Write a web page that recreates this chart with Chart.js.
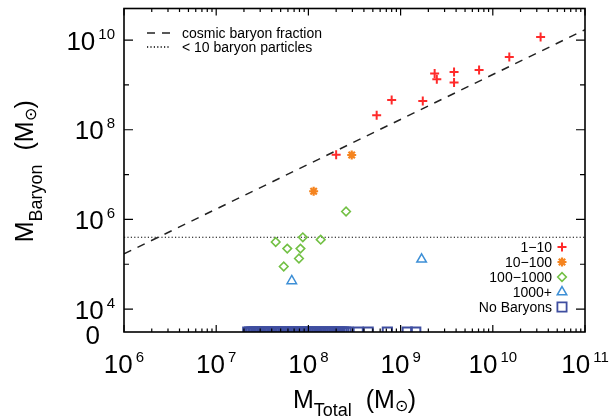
<!DOCTYPE html>
<html>
<head>
<meta charset="utf-8">
<script src="https://cdn.jsdelivr.net/npm/chart.js@4.4.0/dist/chart.umd.min.js"></script>
<style>
  body { margin: 0; background: #fff; }
  #wrap { width: 614px; height: 418px; }
</style>
</head>
<body>
<div id="wrap"><canvas id="myChart"></canvas></div>
<script>
//*************** data *******************

// axis ranges (bottom of the y axis is the "0" row)
var xRange = [1e6, 1e11];
var yRange = [3080, 5.06e10];

// tick values
var xMajorTicks = [1e6, 1e7, 1e8, 1e9, 1e10, 1e11];
var yLabelTicks = [1e4, 1e6, 1e8, 1e10];
var yMinorTicks = [1e5, 1e7, 1e9];

// 1-10 (red plus)
var oneToTenX = [5.5e8, 8.0e8, 1.74e9, 2.34e9, 2.47e9, 3.8e9, 3.8e9, 7.1e9, 1.51e10, 3.3e10, 2.0e8];
var oneToTenY = [2.1e8, 4.6e8, 4.4e8, 1.79e9, 1.34e9, 1.95e9, 1.13e9, 2.15e9, 4.2e9, 1.17e10, 2.78e7];

// 10-100 (orange asterisk)
var tenToHundredX = [2.95e8, 1.14e8];
var tenToHundredY = [2.73e7, 4.25e6];

// 100-1000 (green diamond)
var hundredToThousandX = [2.56e8, 4.42e7, 8.7e7, 1.36e8, 5.9e7, 8.2e7, 7.9e7, 5.4e7];
var hundredToThousandY = [1.5e6, 3.13e5, 3.98e5, 3.53e5, 2.23e5, 2.23e5, 1.34e5, 8.9e4];

// 1000+ (blue triangle)
var thousandPlusX = [1.69e9, 6.6e7];
var thousandPlusY = [1.29e5, 4.25e4];

// no baryons (plotted on the "0" row)
var noBaryonsX = [
  2.2e7, 2.3e7, 2.4e7, 2.5e7, 2.6e7, 2.7e7, 2.8e7, 2.9e7, 3.0e7, 3.2e7, 3.3e7,
  3.5e7, 3.6e7, 3.8e7, 4.0e7, 4.2e7, 4.4e7, 4.6e7, 4.8e7, 5.0e7, 5.3e7, 5.5e7,
  5.8e7, 6.1e7, 6.4e7, 6.7e7, 7.0e7, 7.3e7, 7.7e7, 8.1e7, 8.5e7, 8.9e7, 9.3e7,
  9.8e7, 1.03e8, 1.08e8, 1.13e8, 1.18e8, 1.24e8, 1.3e8, 1.36e8, 1.43e8, 1.5e8,
  1.57e8, 1.65e8, 1.73e8, 1.81e8, 1.9e8, 1.99e8, 2.09e8, 2.19e8, 2.3e8, 2.41e8,
  2.55e8, 2.69e8, 3.47e8, 4.45e8, 7.18e8, 1.18e9, 1.46e9
];

// reference lines
var cosmicX = [1e6, 1e11];
var cosmicY = [1.7e5, 1.7e10];
var tenParticleX = [1e6, 1e11];
var tenParticleY = [4.0e5, 4.0e5];

//*************** helpers *******************

var FONT = '"Liberation Sans", Arial, sans-serif';

function pairUp(xs, ys) {
  var out = [];
  for (var i = 0; i < xs.length; i++) {
    out.push({ x: xs[i], y: ys[i] });
  }
  return out;
}

// "10" with a raised exponent; y is the baseline of the "10"
function drawPower(ctx, exp, x, y, align) {
  ctx.font = '26px ' + FONT;
  var w1 = ctx.measureText('10').width;
  ctx.font = '15px ' + FONT;
  var w2 = ctx.measureText(String(exp)).width;
  var gap = 3;
  var total = w1 + gap + w2;
  var left = align === 'center' ? x - total / 2 : x - total;
  ctx.textAlign = 'left';
  ctx.textBaseline = 'alphabetic';
  ctx.font = '26px ' + FONT;
  ctx.fillText('10', left, y);
  ctx.font = '15px ' + FONT;
  ctx.fillText(String(exp), left + w1 + gap, y - 11);
}

// text made of pieces [text, size, dy], centred on cx, baseline y
function drawPieces(ctx, pieces, cx, y) {
  var total = 0;
  pieces.forEach(function (p) {
    ctx.font = p[1] + 'px ' + FONT;
    total += ctx.measureText(p[0]).width;
  });
  var x = cx - total / 2;
  ctx.textAlign = 'left';
  ctx.textBaseline = 'alphabetic';
  pieces.forEach(function (p) {
    ctx.font = p[1] + 'px ' + FONT;
    ctx.fillText(p[0], x, y + p[2]);
    x += ctx.measureText(p[0]).width;
  });
}

function legendMarker(ctx, style, radius, color, width, x, y) {
  ctx.save();
  ctx.strokeStyle = color;
  ctx.fillStyle = 'rgba(0,0,0,0)';
  ctx.lineWidth = width;
  Chart.helpers.drawPoint(ctx, { pointStyle: style, radius: radius, rotation: 0, borderWidth: width }, x, y);
  ctx.restore();
}

//*************** frame, ticks, labels, legends *******************

var framePlugin = {
  id: 'frame',
  afterDraw: function (chart) {
    var ctx = chart.ctx;
    var a = chart.chartArea;
    var xs = chart.scales.x;
    var ys = chart.scales.y;

    ctx.save();
    ctx.strokeStyle = '#000';
    ctx.fillStyle = '#000';

    // inward ticks
    ctx.lineWidth = 1.2;
    ctx.beginPath();
    for (var d = 6; d <= 11; d++) {
      for (var k = 1; k <= 9; k++) {
        var v = k * Math.pow(10, d);
        if (v > xRange[1]) break;
        var px = xs.getPixelForValue(v);
        var len = k === 1 ? 7 : 3.5;
        ctx.moveTo(px, a.bottom); ctx.lineTo(px, a.bottom - len);
        ctx.moveTo(px, a.top); ctx.lineTo(px, a.top + len);
      }
    }
    yLabelTicks.concat(yMinorTicks).forEach(function (v) {
      var py = ys.getPixelForValue(v);
      var len = yLabelTicks.indexOf(v) >= 0 ? 9 : 5;
      ctx.moveTo(a.left, py); ctx.lineTo(a.left + len, py);
      ctx.moveTo(a.right, py); ctx.lineTo(a.right - len, py);
    });
    ctx.stroke();

    // frame
    ctx.lineWidth = 1.6;
    ctx.strokeRect(a.left, a.top, a.right - a.left, a.bottom - a.top);

    // tick labels
    xMajorTicks.forEach(function (v) {
      drawPower(ctx, Math.round(Math.log10(v)), xs.getPixelForValue(v), a.bottom + 41, 'center');
    });
    yLabelTicks.forEach(function (v) {
      drawPower(ctx, Math.round(Math.log10(v)), a.left - 9, ys.getPixelForValue(v) + 9.5, 'right');
    });
    ctx.font = '26px ' + FONT;
    ctx.textAlign = 'right';
    ctx.fillText('0', a.left - 24, a.bottom + 11.5);

    // axis titles
    drawPieces(ctx, [['M', 25, 0], ['Total', 18, 8], ['  (M', 25, 0], ['\u2299', 16, 3], [')', 25, 0]],
      (a.left + a.right) / 2, 408);
    ctx.save();
    ctx.translate(33, (a.top + a.bottom) / 2 + 1);
    ctx.rotate(-Math.PI / 2);
    drawPieces(ctx, [['M', 25, 0], ['Baryon', 18, 9], ['  (M', 25, 0], ['\u2299', 16, 3], [')', 25, 0]], 0, 0);
    ctx.restore();

    // top-left legend (lines)
    ctx.lineWidth = 1.5;
    ctx.setLineDash([8, 7]);
    ctx.strokeStyle = '#222';
    ctx.beginPath(); ctx.moveTo(147, 33); ctx.lineTo(171, 33); ctx.stroke();
    ctx.setLineDash([1.2, 2.2]);
    ctx.strokeStyle = '#000';
    ctx.beginPath(); ctx.moveTo(147, 47); ctx.lineTo(169, 47); ctx.stroke();
    ctx.setLineDash([]);
    ctx.font = '14px ' + FONT;
    ctx.textAlign = 'left';
    ctx.fillText('cosmic baryon fraction', 182, 38);
    ctx.fillText('< 10 baryon particles', 182, 52);

    // bottom-right legend (markers)
    var rows = [
      ['1\u221210', 'cross', 4.5, '#ff2a2a', 2],
      ['10\u2212100', 'star', 4.5, '#f5841f', 2.2],
      ['100\u22121000', 'rectRot', 4.3, '#72c044', 1.6],
      ['1000+', 'triangle', 5.5, '#3d8fd6', 1.5],
      ['No Baryons', 'rect', 6.5, '#3f4ea0', 1.8]
    ];
    rows.forEach(function (r, i) {
      var base = 252 + i * 15;
      ctx.font = '14px ' + FONT;
      ctx.textAlign = 'right';
      ctx.fillStyle = '#000';
      ctx.fillText(r[0], 552, base);
      legendMarker(ctx, r[1], r[2], r[3], r[4], 562, base - 5);
    });

    ctx.restore();
  }
};

//*************** chart *******************

var myChart = document.getElementById('myChart').getContext('2d');
var baryonChart = new Chart(myChart, {
  type: 'scatter',
  data: {
    datasets: [
      {
        label: '1-10',
        data: pairUp(oneToTenX, oneToTenY),
        pointStyle: 'cross',
        radius: 4.5,
        borderWidth: 2,
        borderColor: '#ff2a2a',
        backgroundColor: 'rgba(0,0,0,0)'
      },
      {
        label: '10-100',
        data: pairUp(tenToHundredX, tenToHundredY),
        pointStyle: 'star',
        radius: 4.5,
        borderWidth: 2.2,
        borderColor: '#f5841f',
        backgroundColor: 'rgba(0,0,0,0)'
      },
      {
        label: '100-1000',
        data: pairUp(hundredToThousandX, hundredToThousandY),
        pointStyle: 'rectRot',
        radius: 4.3,
        borderWidth: 1.6,
        borderColor: '#72c044',
        backgroundColor: 'rgba(0,0,0,0)'
      },
      {
        label: '1000+',
        data: pairUp(thousandPlusX, thousandPlusY),
        pointStyle: 'triangle',
        radius: 5.5,
        borderWidth: 1.5,
        borderColor: '#3d8fd6',
        backgroundColor: 'rgba(0,0,0,0)'
      },
      {
        label: 'No Baryons',
        data: noBaryonsX.map(function (x) { return { x: x, y: yRange[0] }; }),
        pointStyle: 'rect',
        radius: 6.5,
        borderWidth: 2,
        borderColor: '#3f4ea0',
        backgroundColor: 'rgba(0,0,0,0)',
        clip: 0
      },
      {
        label: 'cosmic baryon fraction',
        type: 'line',
        data: pairUp(cosmicX, cosmicY),
        borderColor: '#222',
        borderWidth: 1.5,
        borderDash: [8, 7],
        pointRadius: 0,
        fill: false
      },
      {
        label: '< 10 baryon particles',
        type: 'line',
        data: pairUp(tenParticleX, tenParticleY),
        borderColor: '#000',
        borderWidth: 1.2,
        borderDash: [1.2, 2.2],
        pointRadius: 0,
        fill: false
      }
    ]
  },
  options: {
    responsive: true,
    maintainAspectRatio: false,
    animation: false,
    layout: { padding: { left: 124, right: 29, top: 7, bottom: 86 } },
    scales: {
      x: { type: 'logarithmic', min: xRange[0], max: xRange[1], display: false },
      y: { type: 'logarithmic', min: yRange[0], max: yRange[1], display: false }
    },
    plugins: {
      legend: { display: false },
      tooltip: { enabled: false }
    }
  },
  plugins: [framePlugin]
});
</script>
</body>
</html>
